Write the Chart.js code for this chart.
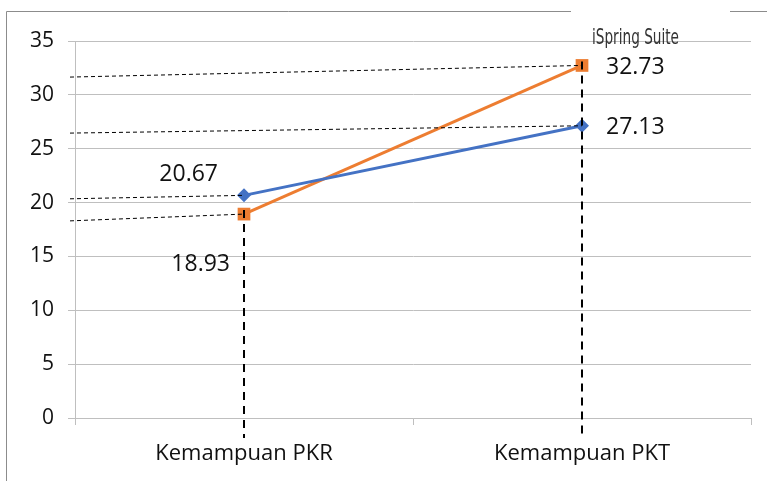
<!DOCTYPE html>
<html>
<head>
<meta charset="utf-8">
<script src="https://cdn.jsdelivr.net/npm/chart.js@4/dist/chart.umd.min.js"></script>
<style>
  html, body { margin: 0; padding: 0; background: #fff; }
  #wrap { width: 767px; height: 481px; position: relative; }
</style>
</head>
<body>
<div id="wrap"><canvas id="chart" width="767" height="481"></canvas></div>
<script>
'use strict';

// ── Data ──────────────────────────────────────────────────────
const categories = ['Kemampuan PKR', 'Kemampuan PKT'];
const seriesBlue   = [20.67, 27.13];
const seriesOrange = [18.93, 32.73];
const yTicks = [0, 5, 10, 15, 20, 25, 30, 35];
// where the hand-drawn dashed guides meet the y axis (they are a bit slanted)
const guideBlue   = [20.35, 26.45];
const guideOrange = [18.3, 31.65];

const BLUE   = '#4472C4';
const ORANGE = '#ED7D31';
const FONT   = "'Open Sans', 'Noto Sans', sans-serif";

// ── Annotations: frame, dashed guides, value labels, watermark ──
const annotate = {
  id: 'annotate',
  beforeDraw(chart) {
    const ctx = chart.ctx;
    ctx.save();
    ctx.strokeStyle = '#8c8c8c';
    ctx.lineWidth = 1;
    ctx.beginPath();
    ctx.moveTo(6.5, 481); ctx.lineTo(6.5, 11.5); ctx.lineTo(571, 11.5);
    ctx.moveTo(730, 11.5); ctx.lineTo(767, 11.5);
    ctx.stroke();
    ctx.restore();
  },
  afterDatasetsDraw(chart) {
    const { ctx, scales: { x, y } } = chart;
    ctx.save();
    ctx.strokeStyle = '#000';

    // thin horizontal guides
    ctx.lineWidth = 1;
    ctx.setLineDash([4, 3]);
    const guides = [[guideBlue, seriesBlue], [guideOrange, seriesOrange]];
    guides.forEach(([start, vals]) => {
      vals.forEach((v, i) => {
        ctx.beginPath();
        ctx.moveTo(x.left - 5, y.getPixelForValue(start[i]));
        ctx.lineTo(x.getPixelForValue(i), y.getPixelForValue(v));
        ctx.stroke();
      });
    });

    // thick vertical guides
    ctx.lineWidth = 2;
    ctx.setLineDash([8, 6]);
    categories.forEach((c, i) => {
      const top = Math.max(seriesBlue[i], seriesOrange[i]);
      const low = Math.min(seriesBlue[i], seriesOrange[i]);
      const px = Math.round(x.getPixelForValue(i));
      ctx.beginPath();
      ctx.moveTo(px, y.getPixelForValue(i === 1 ? top : low) - 4);
      ctx.lineTo(px, y.bottom + 20);
      ctx.stroke();
    });
    ctx.setLineDash([]);

    // value labels
    ctx.fillStyle = '#111';
    ctx.font = '23px ' + FONT;
    ctx.textBaseline = 'middle';
    const fmt = v => v.toFixed(2);
    ctx.textAlign = 'right';
    ctx.fillText(fmt(seriesBlue[0]), x.getPixelForValue(0) - 26, y.getPixelForValue(seriesBlue[0]) - 21);
    ctx.fillText(fmt(seriesOrange[0]), x.getPixelForValue(0) - 14, y.getPixelForValue(seriesOrange[0]) + 50);
    ctx.textAlign = 'left';
    ctx.fillText(fmt(seriesOrange[1]), x.getPixelForValue(1) + 24, y.getPixelForValue(seriesOrange[1]) + 2);
    ctx.fillText(fmt(seriesBlue[1]), x.getPixelForValue(1) + 24, y.getPixelForValue(seriesBlue[1]) + 2);

    // watermark (condensed)
    ctx.fillStyle = '#333';
    ctx.font = "22px 'DejaVu Sans', sans-serif";
    ctx.textAlign = 'left';
    ctx.translate(592, 38);
    ctx.scale(0.62, 1);
    ctx.fillText('iSpring Suite', 0, 0);
    ctx.restore();
  }
};

// ── Chart ─────────────────────────────────────────────────────
new Chart(document.getElementById('chart').getContext('2d'), {
  type: 'line',
  data: {
    labels: categories,
    datasets: [
      { data: seriesBlue, borderColor: BLUE, backgroundColor: BLUE, borderWidth: 3,
        pointStyle: 'rectRot', pointRadius: 7, pointBorderWidth: 0, tension: 0 },
      { data: seriesOrange, borderColor: ORANGE, backgroundColor: ORANGE, borderWidth: 3,
        pointStyle: 'rect', pointRadius: 9, pointBorderWidth: 0, tension: 0 }
    ]
  },
  options: {
    responsive: false,
    animation: false,
    layout: { padding: { top: 41, right: 16, left: 0, bottom: 0 } },
    plugins: { legend: { display: false }, tooltip: { enabled: false } },
    scales: {
      x: {
        offset: true,
        border: { color: '#bfbfbf' },
        grid: { offset: true, drawOnChartArea: false, color: '#bfbfbf', tickLength: 7 },
        ticks: { color: '#111', font: { family: FONT, size: 22 }, padding: 16 },
        afterFit: s => { s.height = 63; }
      },
      y: {
        min: 0, max: 35,
        border: { color: '#bfbfbf' },
        grid: { color: '#bfbfbf', tickLength: 7 },
        afterBuildTicks: s => { s.ticks = yTicks.map(v => ({ value: v })); },
        ticks: { color: '#111', font: { family: FONT, size: 21 }, padding: 14 },
        afterFit: s => { s.width = 75; }
      }
    }
  },
  plugins: [annotate]
});
</script>
</body>
</html>
